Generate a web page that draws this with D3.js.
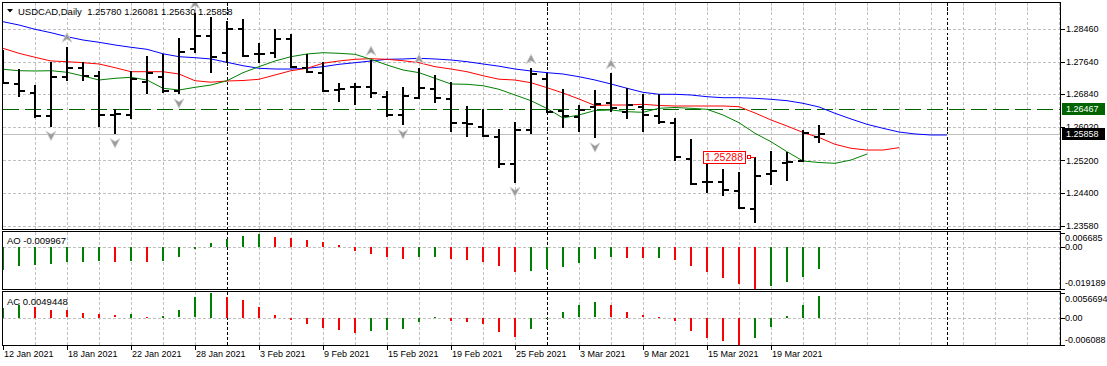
<!DOCTYPE html>
<html><head><meta charset="utf-8">
<script src="https://cdn.jsdelivr.net/npm/d3@7"></script>
<style>
html,body{margin:0;padding:0;background:#fff;}
svg{display:block;}
text{font-family:"Liberation Sans",Arial,sans-serif;}
</style></head><body>
<svg id="c" width="1107" height="366"></svg>
<script>
// ---------------- DATA ----------------
const symbolTitle = "USDCAD,Daily";
const barDates = ["12 Jan 2021","13 Jan 2021","14 Jan 2021","15 Jan 2021","18 Jan 2021","19 Jan 2021","20 Jan 2021","21 Jan 2021","22 Jan 2021","25 Jan 2021","26 Jan 2021","27 Jan 2021","28 Jan 2021","29 Jan 2021",
 "1 Feb 2021","2 Feb 2021","3 Feb 2021","4 Feb 2021","5 Feb 2021","8 Feb 2021","9 Feb 2021","10 Feb 2021","11 Feb 2021","12 Feb 2021","15 Feb 2021","16 Feb 2021","17 Feb 2021","18 Feb 2021","19 Feb 2021","22 Feb 2021","23 Feb 2021","24 Feb 2021","25 Feb 2021","26 Feb 2021",
 "1 Mar 2021","2 Mar 2021","3 Mar 2021","4 Mar 2021","5 Mar 2021","8 Mar 2021","9 Mar 2021","10 Mar 2021","11 Mar 2021","12 Mar 2021","15 Mar 2021","16 Mar 2021","17 Mar 2021","18 Mar 2021","19 Mar 2021","22 Mar 2021","23 Mar 2021","24 Mar 2021"];
const openP  = [1.27691,1.27088,1.26879,1.26309,1.27261,1.27485,1.27294,1.26326,1.26326,1.27137,1.27276,1.26929,1.27956,1.28286,1.27857,1.28460,1.27832,1.27857,1.28212,1.27485,1.27361,1.26946,1.27013,1.27028,1.26780,1.26326,1.26755,1.26964,1.26716,1.26120,1.26036,1.25788,1.25110,1.25954,1.27219,1.26433,1.26284,1.26532,1.26631,1.26408,1.26532,1.26301,1.26120,1.25234,1.24671,1.24671,1.24448,1.23993,1.24855,1.25142,1.25185,1.25780];
const highP  = [1.27939,1.27467,1.27070,1.27649,1.28021,1.27634,1.27418,1.26467,1.27418,1.27790,1.27832,1.28229,1.28850,1.28765,1.28666,1.28708,1.28105,1.28460,1.28336,1.27840,1.27649,1.27113,1.27127,1.27691,1.26929,1.27013,1.27485,1.27319,1.27152,1.26549,1.26475,1.25971,1.26145,1.27485,1.27361,1.26964,1.26574,1.26946,1.27361,1.26989,1.26847,1.26840,1.26244,1.25723,1.25127,1.24979,1.24919,1.25288,1.25440,1.25400,1.25954,1.26081];
const lowP   = [1.27095,1.26780,1.26244,1.26036,1.27170,1.27170,1.26036,1.25855,1.26227,1.26847,1.26879,1.26840,1.27857,1.27376,1.27609,1.27773,1.27609,1.27733,1.27485,1.27361,1.26904,1.26656,1.26574,1.26755,1.26284,1.26078,1.26723,1.26631,1.25912,1.25788,1.25773,1.25018,1.24646,1.25847,1.26383,1.25996,1.25912,1.25748,1.26408,1.26219,1.25897,1.26095,1.25192,1.24589,1.24383,1.24324,1.23986,1.23639,1.24589,1.24696,1.25152,1.25630];
const closeP = [1.27113,1.26929,1.26301,1.27276,1.27500,1.27294,1.26326,1.26343,1.27219,1.27361,1.26929,1.27897,1.28286,1.27758,1.28453,1.27790,1.27840,1.28212,1.27517,1.27386,1.26929,1.26971,1.27028,1.26879,1.26326,1.26805,1.26989,1.26755,1.26135,1.26095,1.25805,1.25110,1.25954,1.27343,1.26408,1.26301,1.26450,1.26599,1.26492,1.26574,1.26326,1.26160,1.25291,1.24606,1.24660,1.24465,1.24026,1.24820,1.24944,1.25167,1.25872,1.25858];
// Alligator (values per bar index, drawn shifted into the future)
const jawBlue = [1.28641,1.28559,1.28453,1.28368,1.28269,1.28187,1.28130,1.28063,1.28006,1.27956,1.27845,1.27773,1.27748,1.27716,1.27634,1.27549,1.27485,1.27467,1.27467,1.27485,1.27525,1.27584,1.27624,1.27666,1.27708,1.27716,1.27733,1.27716,1.27691,1.27649,1.27592,1.27537,1.27467,1.27418,1.27376,1.27343,1.27276,1.27194,1.27095,1.26989,1.26889,1.26840,1.26840,1.26822,1.26780,1.26755,1.26755,1.26740,1.26716,1.26681,1.26616,1.26525,1.26368,1.26227,1.26095,1.25996,1.25904,1.25855,1.25830,1.25830];
const teethRed = [1.27981,1.27857,1.27758,1.27666,1.27649,1.27624,1.27592,1.27500,1.27400,1.27400,1.27400,1.27343,1.27177,1.27140,1.27170,1.27182,1.27212,1.27319,1.27425,1.27485,1.27609,1.27666,1.27708,1.27723,1.27708,1.27673,1.27624,1.27525,1.27467,1.27400,1.27301,1.27214,1.27194,1.27127,1.27003,1.26872,1.26723,1.26562,1.26574,1.26574,1.26592,1.26562,1.26549,1.26549,1.26549,1.26549,1.26532,1.26376,1.26202,1.26053,1.25892,1.25768,1.25599,1.25500,1.25457,1.25457,1.25515];
const lipsGreen = [1.27460,1.27425,1.27418,1.27425,1.27386,1.27294,1.27194,1.27237,1.27261,1.27194,1.26989,1.26946,1.27013,1.27070,1.27177,1.27376,1.27525,1.27666,1.27773,1.27840,1.27872,1.27857,1.27832,1.27708,1.27567,1.27443,1.27376,1.27237,1.27095,1.27088,1.27053,1.26964,1.26822,1.26681,1.26487,1.26252,1.26326,1.26438,1.26450,1.26408,1.26393,1.26492,1.26512,1.26492,1.26467,1.26326,1.26135,1.25872,1.25663,1.25415,1.25185,1.25147,1.25127,1.25209,1.25358];
const upFractals = [4,12,23,26,33,38];
const downFractals = [3,7,11,25,32,37,47];
const aoValues = [-0.01063,-0.00892,-0.00845,-0.00795,-0.00716,-0.00670,-0.00661,-0.00675,-0.00624,-0.00675,-0.00665,-0.00485,-0.00079,0.00185,0.00383,0.00522,0.00600,0.00476,0.00430,0.00337,0.00217,0.00079,-0.00171,-0.00310,-0.00448,-0.00541,-0.00448,-0.00439,-0.00541,-0.00587,-0.00679,-0.00892,-0.01169,-0.01123,-0.00998,-0.00924,-0.00739,-0.00554,-0.00462,-0.00499,-0.00513,-0.00494,-0.00614,-0.00878,-0.01155,-0.01432,-0.01723,-0.019189,-0.01802,-0.01617,-0.01386,-0.009967];
const acValues = [0.00224,0.00298,0.00240,0.00186,0.00164,0.00119,0.00096,0.00052,0.00083,0.00029,0.00034,0.00164,0.00455,0.0056694,0.00477,0.00403,0.00246,0.00067,-0.00045,-0.00128,-0.00224,-0.00269,-0.00329,-0.00284,-0.00276,-0.00240,-0.00090,0.00022,-0.00067,-0.00090,-0.00128,-0.00307,-0.00419,-0.00240,0.00007,0.00141,0.00276,0.00343,0.00276,0.00141,0.00052,0.00022,-0.00060,-0.00284,-0.00441,-0.00508,-0.006088,-0.00441,-0.00195,0.00045,0.00291,0.0049448];
const priceTicks = [1.28460,1.27640,1.26840,1.26020,1.25200,1.24400,1.23580];
const priceTickLabels = ["1.28460","1.27640","1.26840","1.26020","1.25200","1.24400","1.23580"];
const aoAxisValues = [0.006685,0,-0.019189];
const aoAxisLabels = ["0.006685","0.00","-0.019189"];
const acAxisValues = [0.0056694,0,-0.006088];
const acAxisLabels = ["0.0056694","0.00","-0.006088"];
const dateTickLabels = ["12 Jan 2021","18 Jan 2021","22 Jan 2021","28 Jan 2021","3 Feb 2021","9 Feb 2021","15 Feb 2021","19 Feb 2021","25 Feb 2021","3 Mar 2021","9 Mar 2021","15 Mar 2021","19 Mar 2021"];
const separatorIdx = [14,34,59];
const alertLevel = 1.26467, alertLabel = "1.26467";
const bidLevel = 1.25858, bidLabel = "1.25858";
const priceMark = {idx:47, price:1.25288, label:"1.25288"};
const aoLabel = "AO -0.009967", acLabel = "AC 0.0049448";
const headerValues = ["1.25780","1.26081","1.25630","1.25858"];

// ---------------- LAYOUT ----------------
const L=2.5, R=1060.5, T=2.5, B=229.5;
const aoT=231.5, aoB=289.5, acT=291.5, acB=345.5;
const svg=d3.select('#c');
const n=openP.length;
const x=d3.scaleLinear().domain([0,n-1]).range([3,3+16*(n-1)]);
const y=d3.scaleLinear().domain([1.23580,1.28460]).range([225.66,29]);
const yAO=d3.scaleLinear().domain([-0.019189,0.006685]).range([288.5,232.5]);
const yAC=d3.scaleLinear().domain([-0.006088,0.0056694]).range([345,292.5]);
const px=v=>Math.round(v)+0.5;
const GRID="#c0c0c0";

const defs=svg.append('defs');
[["cMain",T,B],["cAO",aoT,aoB],["cAC",acT,acB]].forEach(([id,t,b])=>{
  defs.append('clipPath').attr('id',id).append('rect').attr('x',L).attr('y',t).attr('width',R-L).attr('height',b-t);
});

function vgrid(g,t,b){
  const xs=d3.range(2,200,2).map(i=>x(i)).filter(v=>v<R);
  g.selectAll(null).data(xs).enter().append('line')
    .attr('x1',d=>px(d)).attr('x2',d=>px(d)).attr('y1',t).attr('y2',b)
    .attr('stroke',GRID).attr('stroke-dasharray','3,2').attr('shape-rendering','crispEdges');
  g.selectAll(null).data(separatorIdx).enter().append('line')
    .attr('x1',d=>px(x(d))).attr('x2',d=>px(x(d))).attr('y1',t).attr('y2',b)
    .attr('stroke','#000').attr('stroke-dasharray','3,2').attr('shape-rendering','crispEdges');
}

// ---------- MAIN ----------
const gm=svg.append('g').attr('clip-path','url(#cMain)');
gm.selectAll(null).data(priceTicks).enter().append('line')
  .attr('x1',L).attr('x2',R).attr('y1',d=>px(y(d))).attr('y2',d=>px(y(d)))
  .attr('stroke',GRID).attr('stroke-dasharray','3,2').attr('shape-rendering','crispEdges');
vgrid(gm,T,B);
// bid line & alert line
gm.append('line').attr('x1',L).attr('x2',R).attr('y1',px(y(bidLevel))).attr('y2',px(y(bidLevel)))
  .attr('stroke','#c0c0c0').attr('shape-rendering','crispEdges');
gm.append('line').attr('x1',L).attr('x2',R).attr('y1',px(y(alertLevel))).attr('y2',px(y(alertLevel)))
  .attr('stroke','#006400').attr('stroke-dasharray','16,6').attr('shape-rendering','crispEdges');

// alligator
const mkLine=arr=>d3.line().x((d,i)=>x(i)).y(d=>y(d))(arr);
[[jawBlue,"#0000ff",8],[teethRed,"#ff0000",5],[lipsGreen,"#008000",3]].forEach(([arr,c])=>{
  gm.append('path').attr('d',mkLine(arr)).attr('fill','none').attr('stroke',c).attr('stroke-width',1);
});

// OHLC bars
const bars=gm.selectAll(null).data(d3.range(n)).enter().append('g').attr('shape-rendering','crispEdges');
bars.append('rect').attr('x',i=>Math.round(x(i))-1).attr('width',2)
  .attr('y',i=>Math.round(y(highP[i]))).attr('height',i=>Math.max(1,Math.round(y(lowP[i]))-Math.round(y(highP[i]))));
bars.append('rect').attr('x',i=>Math.round(x(i))-5).attr('width',5)
  .attr('y',i=>Math.round(y(openP[i]))-1).attr('height',2);
bars.append('rect').attr('x',i=>Math.round(x(i))).attr('width',6)
  .attr('y',i=>Math.round(y(closeP[i]))-1).attr('height',2);

// fractals
function arrow(cx,cy,up){
  const s=up?1:-1;
  return `M${cx},${cy-5*s} L${cx+5},${cy+4.5*s} L${cx},${cy+1.5*s} L${cx-5},${cy+4.5*s} Z`;
}
gm.selectAll(null).data(upFractals).enter().append('path')
  .attr('d',i=>arrow(x(i),y(highP[i])-9,true)).attr('fill','#9a9a9a').attr('stroke','#d4d4d4').attr('stroke-width',0.8);
gm.selectAll(null).data(downFractals).enter().append('path')
  .attr('d',i=>arrow(x(i),y(lowP[i])+9,false)).attr('fill','#9a9a9a').attr('stroke','#d4d4d4').attr('stroke-width',0.8);

// price label object
{
  const ax=x(priceMark.idx), ay=y(priceMark.price);
  const g=svg.append('g');
  g.append('line').attr('x1',ax-6).attr('x2',ax).attr('y1',px(ay)).attr('y2',px(ay)).attr('stroke','#ff0000').attr('shape-rendering','crispEdges');
  g.append('rect').attr('x',Math.round(ax-8.5)+0.5).attr('y',Math.round(ay-1.5)+0.5).attr('width',2.5).attr('height',2.5)
    .attr('fill','#fff').attr('stroke','#ff0000').attr('shape-rendering','crispEdges');
  g.append('rect').attr('x',Math.round(ax-52)+0.5).attr('y',Math.round(ay-6)+0.5).attr('width',42).attr('height',12)
    .attr('fill','#fff').attr('stroke','#ff0000').attr('shape-rendering','crispEdges');
  g.append('text').attr('x',ax-31).attr('y',ay).attr('dy','0.36em').attr('text-anchor','middle')
    .attr('font-size','10.5px').attr('fill','#ff0000').text(priceMark.label);
}

// title
svg.append('path').attr('d','M7,9 L13,9 L10,12.5 Z').attr('fill','#000');
svg.append('text').attr('x',18).attr('y',14.5).attr('font-size','9.5px').attr('fill','#000')
  .attr('xml:space','preserve').text(symbolTitle+"  "+headerValues.join(" "));

// ---------- AO ----------
const ga=svg.append('g').attr('clip-path','url(#cAO)');
vgrid(ga,aoT,aoB);
ga.append('line').attr('x1',L).attr('x2',R).attr('y1',px(yAO(0))).attr('y2',px(yAO(0)))
  .attr('stroke',GRID).attr('stroke-dasharray','3,2').attr('shape-rendering','crispEdges');
ga.selectAll(null).data(aoValues).enter().append('rect')
  .attr('x',(d,i)=>Math.round(x(i))-1).attr('width',2)
  .attr('y',d=>Math.round(Math.min(yAO(d),yAO(0))))
  .attr('height',d=>Math.max(1,Math.round(Math.abs(yAO(d)-yAO(0)))))
  .attr('fill',(d,i)=>(i===0||d>aoValues[i-1])?'#008000':'#ff0000').attr('shape-rendering','crispEdges');
svg.append('text').attr('x',7).attr('y',244).attr('font-size','9.5px').text(aoLabel);

// ---------- AC ----------
const gc=svg.append('g').attr('clip-path','url(#cAC)');
vgrid(gc,acT,acB);
gc.append('line').attr('x1',L).attr('x2',R).attr('y1',px(yAC(0))).attr('y2',px(yAC(0)))
  .attr('stroke',GRID).attr('stroke-dasharray','3,2').attr('shape-rendering','crispEdges');
gc.selectAll(null).data(acValues).enter().append('rect')
  .attr('x',(d,i)=>Math.round(x(i))-1).attr('width',2)
  .attr('y',d=>Math.round(Math.min(yAC(d),yAC(0))))
  .attr('height',d=>Math.max(1,Math.round(Math.abs(yAC(d)-yAC(0)))))
  .attr('fill',(d,i)=>(i===0||d>acValues[i-1])?'#008000':'#ff0000').attr('shape-rendering','crispEdges');
svg.append('text').attr('x',7).attr('y',304.5).attr('font-size','9.5px').text(acLabel);

// ---------- FRAMES ----------
[[T,B],[aoT,aoB],[acT,acB]].forEach(([t,b])=>{
  svg.append('rect').attr('x',L).attr('y',t).attr('width',R-L).attr('height',b-t)
    .attr('fill','none').attr('stroke','#000').attr('shape-rendering','crispEdges');
});

// ---------- RIGHT AXES ----------
const ax=svg.append('g').attr('font-size','9px');
priceTicks.forEach((p,i)=>{
  const yy=y(p);
  ax.append('line').attr('x1',R).attr('x2',R+4).attr('y1',px(yy)).attr('y2',px(yy)).attr('stroke','#000').attr('shape-rendering','crispEdges');
  ax.append('text').attr('x',1066).attr('y',yy).attr('dy','0.35em').text(priceTickLabels[i]);
});
function levelBox(val,label,fill){
  const yy=y(val);
  ax.append('rect').attr('x',1062).attr('y',Math.round(yy)-6).attr('width',43).attr('height',12).attr('fill',fill);
  ax.append('text').attr('x',1066).attr('y',yy).attr('dy','0.35em').attr('fill','#fff').text(label);
}
levelBox(alertLevel,alertLabel,'#006400');
levelBox(bidLevel,bidLabel,'#000');
// AO/AC axes
const aoLabelY=[237.5,247,283], acLabelY=[298.5,318,339.5];
aoAxisValues.forEach((v,i)=>{
  ax.append('line').attr('x1',R).attr('x2',R+4).attr('y1',px(yAO(v))).attr('y2',px(yAO(v))).attr('stroke','#000').attr('shape-rendering','crispEdges');
  ax.append('text').attr('x',1065).attr('y',aoLabelY[i]).attr('dy','0.35em').text(aoAxisLabels[i]);
});
acAxisValues.forEach((v,i)=>{
  ax.append('line').attr('x1',R).attr('x2',R+4).attr('y1',px(yAC(v))).attr('y2',px(yAC(v))).attr('stroke','#000').attr('shape-rendering','crispEdges');
  ax.append('text').attr('x',1065).attr('y',acLabelY[i]).attr('dy','0.35em').text(acAxisLabels[i]);
});

// ---------- DATE AXIS ----------
dateTickLabels.forEach(lbl=>{
  const i=barDates.indexOf(lbl);
  const xx=x(i);
  ax.append('line').attr('x1',px(xx)).attr('x2',px(xx)).attr('y1',acB).attr('y2',acB+4).attr('stroke','#000').attr('shape-rendering','crispEdges');
  ax.append('text').attr('x',xx+1).attr('y',354).attr('dy','0.35em').text(lbl);
});
</script>
</body></html>
